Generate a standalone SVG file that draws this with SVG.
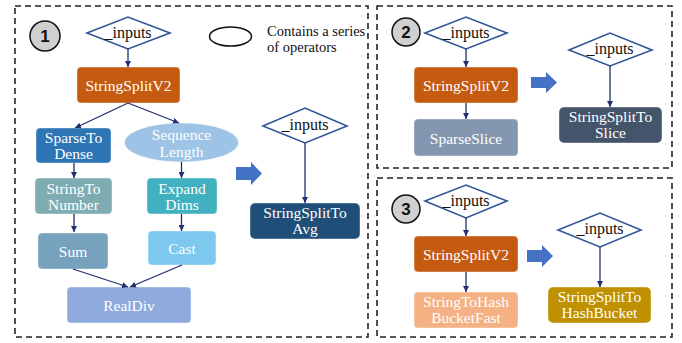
<svg xmlns="http://www.w3.org/2000/svg" width="682" height="343" viewBox="0 0 682 343">
  <style>
    text { font-family: "Liberation Serif", serif !important; }
    .badge text { font-family: "Liberation Sans", sans-serif !important; font-weight: bold; font-size: 17px; fill: #111; text-anchor: middle; }
    .panel { fill: none; stroke: #222; stroke-width: 1.6; stroke-dasharray: 6 4; }
    .badge circle { fill: #d0d0d0; stroke: #111; stroke-width: 1.5; }
    .dia polygon { fill: #fff; stroke: #2f5597; stroke-width: 1.6; }
    .dia text { font-size: 16px; fill: #111; text-anchor: middle; }
    .op rect, .op ellipse { stroke: #fff; stroke-opacity: 0.4; stroke-width: 1; }
    .op text { font-size: 15.5px; fill: #fff; text-anchor: middle; }
    .edge { fill: none; stroke: #1f3070; stroke-width: 1.3; marker-end: url(#ah); }
    .big { fill: #4472c4; }
    .legend { font-size: 14.5px; fill: #111; }
  </style>
  <defs>
    <marker id="ah" viewBox="0 0 10 10" refX="10" refY="5" markerWidth="6" markerHeight="6" markerUnits="userSpaceOnUse" orient="auto">
      <path d="M0,0 L10,5 L0,10 z" fill="#1f3070"/>
    </marker>
  </defs>

  <!-- panel frames -->
  <rect class="panel" x="15" y="6" width="353" height="331"/>
  <rect class="panel" x="377" y="6" width="295" height="162"/>
  <rect class="panel" x="377" y="178" width="295" height="159"/>

  <!-- panel badges -->
  <g id="badge1" class="badge"><circle cx="45" cy="36" r="15"/><text x="45" y="42">1</text></g>
  <g id="badge2" class="badge"><circle cx="406" cy="32" r="14"/><text x="406" y="38">2</text></g>
  <g id="badge3" class="badge"><circle cx="406" cy="209" r="14"/><text x="406" y="215">3</text></g>

  <!-- legend -->
  <g id="legend">
    <ellipse cx="230.5" cy="36.5" rx="21" ry="9.5" fill="#fff" stroke="#111" stroke-width="1.5"/>
    <text class="legend" x="267" y="36">Contains a series</text>
    <text class="legend" x="267" y="52">of operators</text>
  </g>

  <!-- panel 1: original subgraph -->
  <g id="p1-inputs" class="dia"><polygon points="87,33 128,17 170,33 128,49"/><text x="128" y="38">_inputs</text></g>
  <g id="p1-split" class="op"><rect x="77" y="67" width="103" height="36" rx="4" fill="#c55a11"/><text x="128.5" y="91">StringSplitV2</text></g>
  <g id="p1-s2d" class="op"><rect x="36" y="128" width="75" height="35" rx="4" fill="#2e75b6"/><text x="73.5" y="143">SparseTo</text><text x="73.5" y="159">Dense</text></g>
  <g id="p1-seqlen" class="op"><ellipse cx="181.5" cy="142.5" rx="57" ry="19.5" fill="#9dc3e6"/><text x="181.5" y="140">Sequence</text><text x="181.5" y="157">Length</text></g>
  <g id="p1-s2n" class="op"><rect x="35" y="178" width="77" height="36" rx="4" fill="#7facb2"/><text x="73.5" y="194">StringTo</text><text x="73.5" y="210">Number</text></g>
  <g id="p1-expand" class="op"><rect x="147" y="178" width="70" height="36" rx="4" fill="#41b0c0"/><text x="182" y="194">Expand</text><text x="182" y="210">Dims</text></g>
  <g id="p1-sum" class="op"><rect x="38" y="233" width="70" height="36" rx="4" fill="#77a2bd"/><text x="73" y="257">Sum</text></g>
  <g id="p1-cast" class="op"><rect x="148" y="231" width="68" height="34" rx="4" fill="#7cc8ee"/><text x="182" y="254">Cast</text></g>
  <g id="p1-realdiv" class="op"><rect x="67" y="287" width="124" height="36" rx="4" fill="#8faadc"/><text x="129" y="311">RealDiv</text></g>

  <!-- panel 1: fused result -->
  <g id="p1-inputs2" class="dia"><polygon points="263,126 305,108 347,126 305,143"/><text x="305" y="130">_inputs</text></g>
  <g id="p1-fused" class="op"><rect x="250" y="203" width="110" height="36" rx="5" fill="#1f4e79"/><text x="305" y="218">StringSplitTo</text><text x="305" y="234">Avg</text></g>

  <!-- panel 2 -->
  <g id="p2-inputs" class="dia"><polygon points="425,33 466,17 507,33 466,49"/><text x="466" y="38">_inputs</text></g>
  <g id="p2-split" class="op"><rect x="414" y="67" width="104" height="36" rx="4" fill="#c55a11"/><text x="466" y="91">StringSplitV2</text></g>
  <g id="p2-slice" class="op"><rect x="414" y="119" width="104" height="37" rx="4" fill="#8497b0"/><text x="466" y="144">SparseSlice</text></g>
  <g id="p2-inputs2" class="dia"><polygon points="569,50 610,33 652,50 610,66"/><text x="610" y="54">_inputs</text></g>
  <g id="p2-fused" class="op"><rect x="559" y="107" width="103" height="36" rx="5" fill="#44546a"/><text x="610.5" y="122">StringSplitTo</text><text x="610.5" y="138">Slice</text></g>

  <!-- panel 3 -->
  <g id="p3-inputs" class="dia"><polygon points="425,201 466,185 507,201 466,218"/><text x="466" y="206">_inputs</text></g>
  <g id="p3-split" class="op"><rect x="414" y="236" width="104" height="36" rx="4" fill="#c55a11"/><text x="466" y="260">StringSplitV2</text></g>
  <g id="p3-hash" class="op"><rect x="414" y="292" width="104" height="36" rx="4" fill="#f4b183"/><text x="466" y="307">StringToHash</text><text x="466" y="323">BucketFast</text></g>
  <g id="p3-inputs2" class="dia"><polygon points="558,230 600,213 641,230 600,247"/><text x="600" y="234">_inputs</text></g>
  <g id="p3-fused" class="op"><rect x="548" y="287" width="103" height="36" rx="5" fill="#bf9000"/><text x="599.5" y="302">StringSplitTo</text><text x="599.5" y="318">HashBucket</text></g>

  <!-- rewrite arrows -->
  <g id="rewrite-arrows">
    <polygon class="big" points="236,167 251,167 251,162 262,173.5 251,185 251,180 236,180"/>
    <polygon class="big" points="531,77 546,77 546,72 557,82.5 546,93 546,88 531,88"/>
    <polygon class="big" points="527,250 542,250 542,245 553,256 542,267 542,262 527,262"/>
  </g>

  <!-- connectors -->
  <g id="connectors">
    <line class="edge" x1="128" y1="49" x2="128" y2="67"/>
    <line class="edge" x1="128" y1="103" x2="75" y2="128"/>
    <line class="edge" x1="128" y1="103" x2="179" y2="123"/>
    <line class="edge" x1="74" y1="163" x2="74" y2="178"/>
    <line class="edge" x1="181.5" y1="162" x2="181.5" y2="178"/>
    <line class="edge" x1="74" y1="214" x2="74" y2="232"/>
    <line class="edge" x1="181.5" y1="214" x2="181.5" y2="231"/>
    <line class="edge" x1="73" y1="269" x2="128" y2="287"/>
    <line class="edge" x1="182" y1="265" x2="130" y2="287"/>
    <line class="edge" x1="305" y1="143" x2="305" y2="203"/>
    <line class="edge" x1="466" y1="49" x2="466" y2="67"/>
    <line class="edge" x1="466" y1="103" x2="466" y2="119"/>
    <line class="edge" x1="610" y1="66" x2="610" y2="107"/>
    <line class="edge" x1="466" y1="218" x2="466" y2="236"/>
    <line class="edge" x1="466" y1="272" x2="466" y2="292"/>
    <line class="edge" x1="600" y1="247" x2="600" y2="287"/>
  </g>
</svg>
